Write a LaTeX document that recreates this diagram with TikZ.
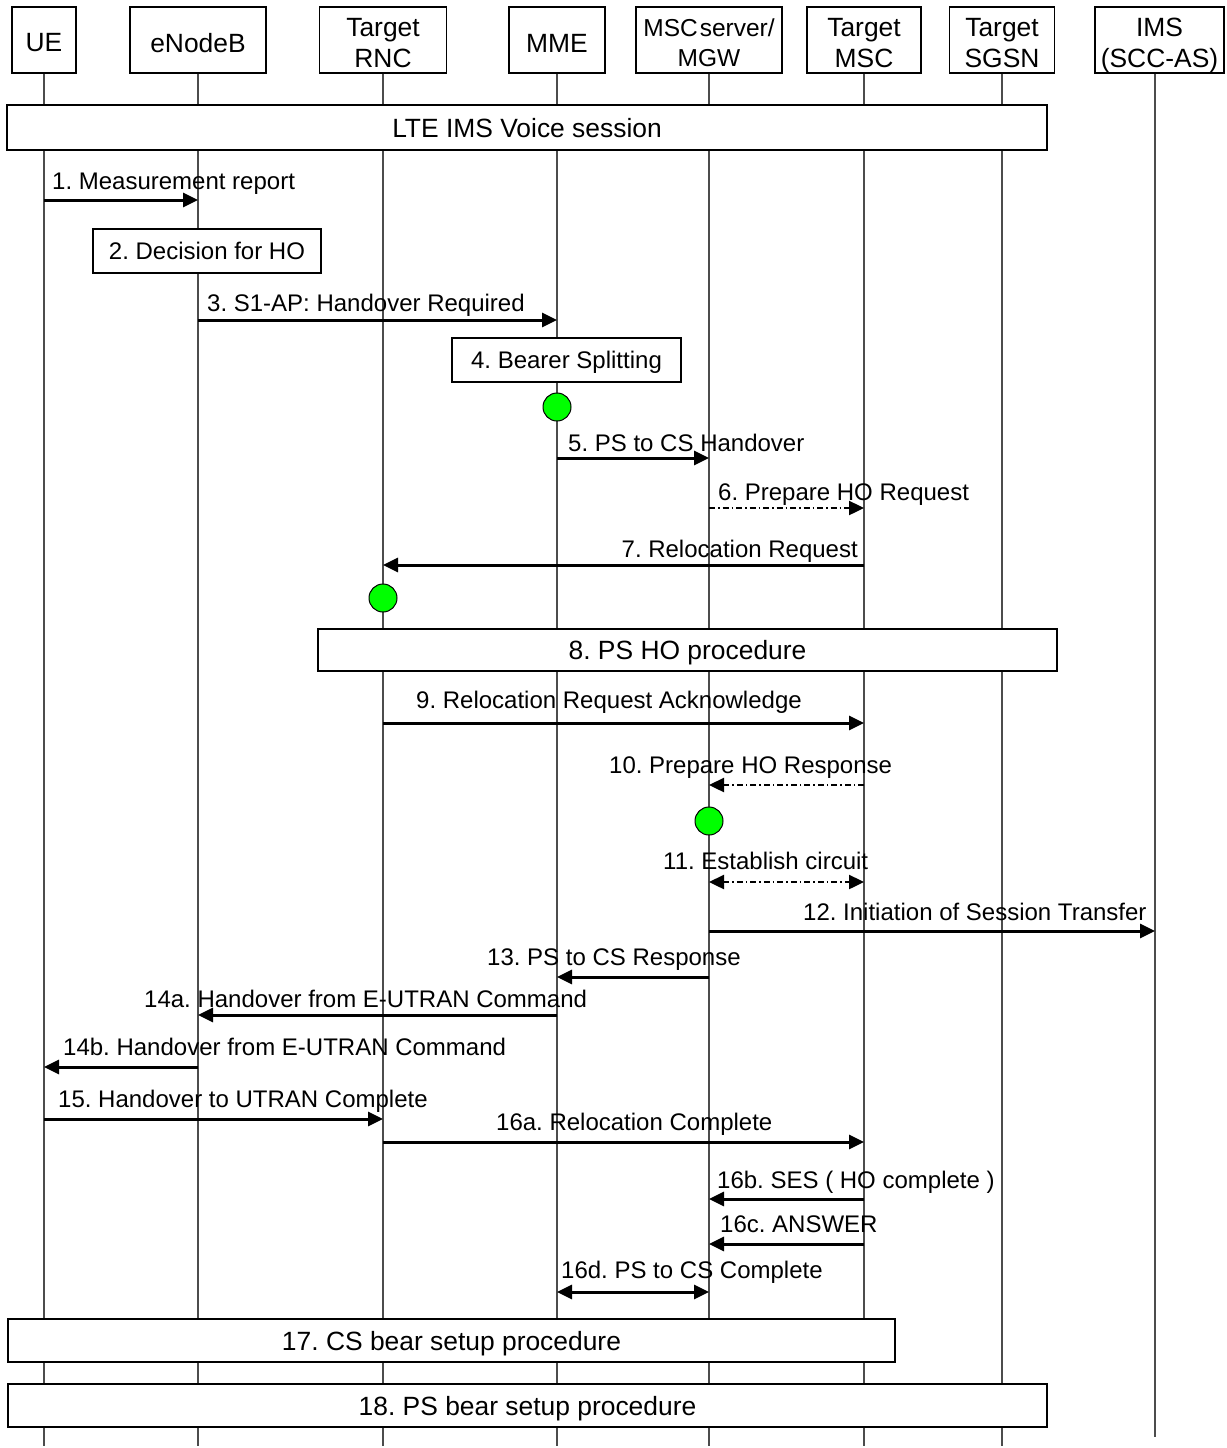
\documentclass[tikz,border=0pt]{standalone}
\usepackage{fontspec}
\setmainfont{Liberation Sans}
\usetikzlibrary{arrows.meta}
\definecolor{cgreen}{RGB}{0,255,0}
\begin{document}
\frenchspacing
\begin{tikzpicture}[x=1pt,y=-1pt,
  hdr/.style={draw, line width=1.3pt, fill=white, minimum height=66pt, inner sep=0pt},
  hdrtxt/.style={yshift=-3pt, inner sep=0pt, align=center, font=\fontsize{26.4}{31}\selectfont},
  bigbox/.style={draw, line width=1.3pt, fill=white, inner sep=0pt, text depth=0pt, font=\fontsize{26.4}{31}\selectfont},
  smallbox/.style={draw, line width=1.3pt, fill=white, inner sep=0pt, text depth=0pt, font=\fontsize{24}{28}\selectfont},
  life/.style={line width=1.2pt, black!70},
  lbl/.style={inner sep=0pt, font=\fontsize{24}{28}\selectfont},
  gc/.style={circle, draw, line width=1pt, fill=cgreen, minimum size=28pt, inner sep=0pt},
  msg/.style={line width=3pt, -{Triangle[length=15pt,width=14pt]}},
  dmsg/.style={line width=2.4pt, dash pattern=on 6pt off 3pt on 1.5pt off 3pt, -{Triangle[length=15pt,width=14pt]}},
  dmsgb/.style={line width=2.4pt, dash pattern=on 6pt off 3pt on 1.5pt off 3pt, {Triangle[length=15pt,width=14pt]}-{Triangle[length=15pt,width=14pt]}},
  dbl/.style={line width=3pt, {Triangle[length=15pt,width=14pt]}-{Triangle[length=15pt,width=14pt]}}
]
\useasboundingbox (0,0) rectangle (1226,1448);

% headers
\node[hdr, minimum width=64pt, label={[hdrtxt]center:UE}] (ue) at (44,40) {};
\node[hdr, minimum width=136pt, label={[hdrtxt]center:eNodeB}] (enb) at (198,40) {};
\node[hdr, minimum width=127pt, label={[hdrtxt]center:Target\\RNC}] (rnc) at (383,40) {};
\node[hdr, minimum width=96pt, label={[hdrtxt]center:MME}] (mme) at (557,40) {};
\node[hdr, minimum width=146pt, label={[hdrtxt, font=\fontsize{24.5}{30}\selectfont]center:MSC\hspace{2pt}server/\\MGW}] (msc) at (709,40) {};
\node[hdr, minimum width=114pt, label={[hdrtxt]center:Target\\MSC}] (tmsc) at (864,40) {};
\node[hdr, minimum width=105pt, label={[hdrtxt]center:Target\\SGSN}] (sgsn) at (1002,40) {};
\node[hdr, minimum width=129pt, label={[hdrtxt, yshift=-2.5pt]center:IMS\\(SCC-AS)}] (ims) at (1159.5,40) {};
\coordinate (imsl) at ([xshift=-4.5pt]ims.south);

% lifelines
\foreach \n in {ue,enb,rnc,mme,msc,tmsc,sgsn}
  \draw[life] (\n.south) -- (\n |- 0,1446);
\draw[life] (imsl) -- (imsl |- 0,1437);

% boxes
\node[bigbox, minimum width=1040pt, minimum height=45pt] (lte) at (527,127.5) {LTE IMS Voice session};
\node[smallbox, minimum width=228pt, minimum height=44pt] (dec) at (207,251) {2. Decision for HO};
\node[smallbox, minimum width=229pt, minimum height=44pt] (bsp) at (566.5,360) {4. Bearer Splitting};
\node[bigbox, minimum width=739pt, minimum height=42pt] (psho) at (687.5,650) {8. PS HO procedure};
\node[bigbox, minimum width=887pt, minimum height=43pt] (csb) at (451.5,1340.5) {17. CS bear setup procedure};
\node[bigbox, minimum width=1039pt, minimum height=43pt] (psb) at (527.5,1405.5) {18. PS bear setup procedure};

% messages
\draw[msg] (ue |- 0,200) -- (enb |- 0,200);
\node[lbl, anchor=base west] (m1) at (52,189) {1. Measurement report};

\draw[msg] (enb |- 0,320) -- (mme |- 0,320);
\node[lbl, anchor=base west] (m3) at (207,311) {3. S1-AP: Handover Required};

\node[gc] (g1) at (mme |- 0,407) {};

\draw[msg] (mme |- 0,458) -- (msc |- 0,458);
\node[lbl, anchor=base west] (m5) at (568,451) {5. PS to CS Handover};

\draw[dmsg] (msc |- 0,508) -- (tmsc |- 0,508);
\node[lbl, anchor=base west] (m6) at (718,500) {6. Prepare HO Request};

\draw[msg] (tmsc |- 0,565) -- (rnc |- 0,565);
\node[lbl, anchor=base east] (m7) at (858,557) {7. Relocation Request};

\node[gc] (g2) at (rnc |- 0,598) {};

\draw[msg] (rnc |- 0,723) -- (tmsc |- 0,723);
\node[lbl, anchor=base west] (m9) at (416,708) {9. Relocation Request Acknowledge};

\draw[dmsg] (tmsc |- 0,785) -- (msc |- 0,785);
\node[lbl, anchor=base west] (m10) at (609,773) {10. Prepare HO Response};

\node[gc] (g3) at (msc |- 0,821) {};

\draw[dmsgb] (msc |- 0,882) -- (tmsc |- 0,882);
\node[lbl, anchor=base west] (m11) at (663,869) {11. Establish circuit};

\draw[msg] (msc |- 0,931) -- (imsl |- 0,931);
\node[lbl, anchor=base west] (m12) at (803,920) {12. Initiation of Session Transfer};

\draw[msg] (msc |- 0,977) -- (mme |- 0,977);
\node[lbl, anchor=base west] (m13) at (487,965) {13. PS to CS Response};

\draw[msg] (mme |- 0,1015) -- (enb |- 0,1015);
\node[lbl, anchor=base west] (m14a) at (144,1007) {14a. Handover from E-UTRAN Command};

\draw[msg] (enb |- 0,1067) -- (ue |- 0,1067);
\node[lbl, anchor=base west] (m14b) at (63,1055) {14b. Handover from E-UTRAN Command};

\draw[msg] (ue |- 0,1119) -- (rnc |- 0,1119);
\node[lbl, anchor=base west] (m15) at (58,1107) {15. Handover to UTRAN Complete};

\draw[msg] (rnc |- 0,1142) -- (tmsc |- 0,1142);
\node[lbl, anchor=base west] (m16a) at (496,1130) {16a. Relocation Complete};

\draw[msg] (tmsc |- 0,1199) -- (msc |- 0,1199);
\node[lbl, anchor=base west] (m16b) at (717,1188) {16b. SES ( HO complete )};

\draw[msg] (tmsc |- 0,1244) -- (msc |- 0,1244);
\node[lbl, anchor=base west] (m16c) at (720,1232) {16c. ANSWER};

\draw[dbl] (mme |- 0,1292) -- (msc |- 0,1292);
\node[lbl, anchor=base west] (m16d) at (561,1278) {16d. PS to CS Complete};
\end{tikzpicture}
\end{document}
